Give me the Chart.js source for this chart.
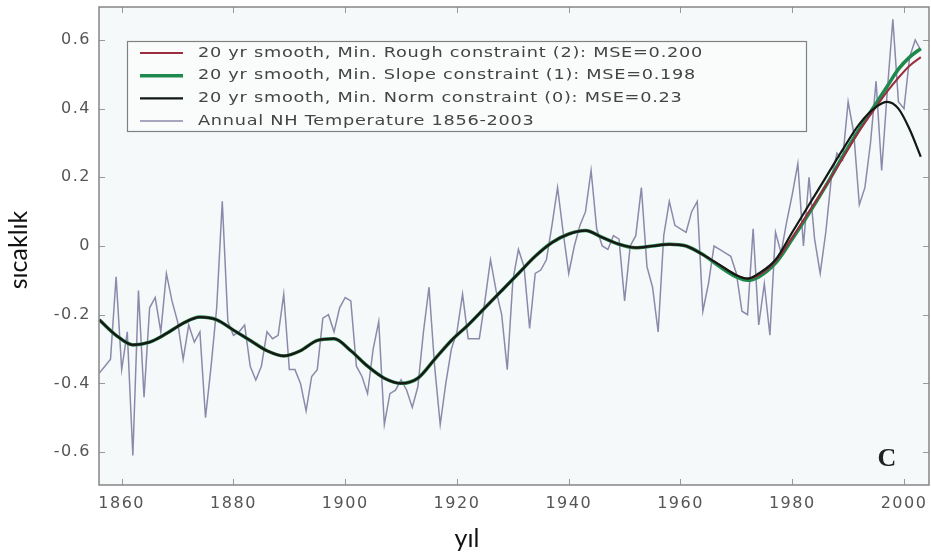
<!DOCTYPE html>
<html>
<head>
<meta charset="utf-8">
<script src="https://cdn.jsdelivr.net/npm/chart.js@4.4.0/dist/chart.umd.min.js"></script>
<style>
    html, body { margin: 0; padding: 0; background: #fff; }
    #wrap { width: 931px; height: 558px; }
</style>
</head>
<body>
<div id="wrap"><canvas id="tempChart"></canvas></div>
<script>
// Annual NH temperature 1856-2003
const firstYear = 1856;
const annualTemps = [
    -0.37, -0.35, -0.33, -0.09, -0.36, -0.25, -0.61, -0.13, -0.44, -0.18,
    -0.15, -0.25, -0.08, -0.16, -0.22, -0.33, -0.23, -0.28, -0.25, -0.50,
    -0.35, -0.18, 0.13, -0.22, -0.26, -0.25, -0.23, -0.35, -0.39, -0.35,
    -0.25, -0.27, -0.26, -0.14, -0.36, -0.36, -0.40, -0.48, -0.38, -0.36,
    -0.21, -0.20, -0.25, -0.18, -0.15, -0.16, -0.35, -0.38, -0.43, -0.30,
    -0.22, -0.52, -0.43, -0.42, -0.39, -0.42, -0.47, -0.41, -0.25, -0.12,
    -0.35, -0.52, -0.40, -0.30, -0.25, -0.14, -0.27, -0.27, -0.27, -0.16,
    -0.04, -0.13, -0.20, -0.36, -0.10, -0.01, -0.06, -0.24, -0.08, -0.07,
    -0.04, 0.06, 0.17, 0.04, -0.08, 0.00, 0.06, 0.10, 0.22, 0.05,
    0.00, -0.01, 0.03, 0.02, -0.16, 0.00, 0.03, 0.17, -0.06, -0.12,
    -0.25, 0.03, 0.13, 0.06, 0.05, 0.04, 0.10, 0.13, -0.19, -0.11,
    0.00, -0.01, -0.02, -0.03, -0.08, -0.19, -0.20, 0.05, -0.23, -0.11,
    -0.26, 0.04, -0.02, 0.07, 0.15, 0.24, 0.00, 0.20, 0.02, -0.08,
    0.04, 0.20, 0.27, 0.25, 0.42, 0.33, 0.12, 0.17, 0.30, 0.48,
    0.22, 0.45, 0.66, 0.42, 0.40, 0.55, 0.60, 0.57
];
const annualYears = annualTemps.map((_, i) => firstYear + i);

// 20 yr smooth curves
const smoothYears = [
    1856, 1859, 1862, 1865, 1868, 1871, 1874, 1877, 1880, 1883,
    1886, 1889, 1892, 1895, 1898, 1901, 1904, 1907, 1910, 1913,
    1916, 1919, 1922, 1925, 1928, 1931, 1934, 1937, 1940, 1943,
    1946, 1949, 1952, 1955, 1958, 1961, 1964, 1967, 1970, 1972,
    1974, 1977, 1980, 1983, 1986, 1989, 1992, 1995, 1997, 1999,
    2001, 2003
];
const roughSmooth = [
    -0.215, -0.26, -0.288, -0.28, -0.255, -0.225, -0.207, -0.215, -0.245, -0.275,
    -0.305, -0.32, -0.305, -0.275, -0.27, -0.305, -0.35, -0.385, -0.40, -0.385,
    -0.33, -0.275, -0.23, -0.18, -0.13, -0.08, -0.03, 0.01, 0.035, 0.045,
    0.025, 0.005, -0.005, 0.0, 0.005, 0.0, -0.025, -0.055, -0.085, -0.095,
    -0.085, -0.045, 0.025, 0.10, 0.175, 0.255, 0.335, 0.405, 0.45, 0.49,
    0.525, 0.55
];
const slopeSmooth = [
    -0.215, -0.26, -0.288, -0.28, -0.255, -0.225, -0.207, -0.215, -0.245, -0.275,
    -0.305, -0.32, -0.305, -0.275, -0.27, -0.305, -0.35, -0.385, -0.40, -0.385,
    -0.33, -0.275, -0.23, -0.18, -0.13, -0.08, -0.03, 0.01, 0.035, 0.045,
    0.025, 0.005, -0.005, 0.0, 0.005, 0.0, -0.025, -0.06, -0.09, -0.10,
    -0.09, -0.05, 0.02, 0.095, 0.175, 0.26, 0.34, 0.415, 0.465, 0.515,
    0.55, 0.575
];
const normSmooth = [
    -0.215, -0.26, -0.288, -0.28, -0.255, -0.225, -0.207, -0.215, -0.245, -0.275,
    -0.305, -0.32, -0.305, -0.275, -0.27, -0.305, -0.35, -0.385, -0.40, -0.385,
    -0.33, -0.275, -0.23, -0.18, -0.13, -0.08, -0.03, 0.01, 0.035, 0.045,
    0.025, 0.005, -0.005, 0.0, 0.005, 0.0, -0.025, -0.055, -0.085, -0.095,
    -0.08, -0.04, 0.04, 0.12, 0.20, 0.28, 0.355, 0.405, 0.42, 0.40,
    0.34, 0.26
];

// tick labels
const xTicks = [1860, 1880, 1900, 1920, 1940, 1960, 1980, 2000];
const yTicks = [-0.6, -0.4, -0.2, 0, 0.2, 0.4, 0.6];

const legendOrder = [
    { label: '20 yr smooth, Min. Rough constraint (2): MSE=0.200', color: '#9b2d3f', width: 2 },
    { label: '20 yr smooth, Min. Slope constraint (1): MSE=0.198', color: '#1d8a4c', width: 3.5 },
    { label: '20 yr smooth, Min. Norm constraint (0): MSE=0.23', color: '#111a15', width: 2.2 },
    { label: 'Annual NH Temperature 1856-2003', color: '#8c8aaa', width: 1.5 }
];

const toPoints = (xs, ys) => xs.map((x, i) => ({ x: x, y: ys[i] }));

// plot background, frame with inward ticks, legend and titles
const framePlugin = {
    id: 'frame',
    beforeDraw(chart) {
        const { ctx, chartArea: a } = chart;
        ctx.letterSpacing = '1.5px';
        ctx.save();
        ctx.fillStyle = '#f6f9fa';
        ctx.fillRect(a.left, a.top, a.width, a.height);
        ctx.restore();
    },
    afterDatasetsDraw(chart) {
        const { ctx, chartArea: a, scales } = chart;
        ctx.save();
        ctx.strokeStyle = '#9a9a9a';
        ctx.lineWidth = 1;
        ctx.beginPath();
        xTicks.forEach(v => {
            const px = Math.round(scales.x.getPixelForValue(v)) + 0.5;
            ctx.moveTo(px, a.bottom); ctx.lineTo(px, a.bottom - 6);
            ctx.moveTo(px, a.top); ctx.lineTo(px, a.top + 6);
        });
        yTicks.forEach(v => {
            const py = Math.round(scales.y.getPixelForValue(v)) + 0.5;
            ctx.moveTo(a.left, py); ctx.lineTo(a.left + 6, py);
            ctx.moveTo(a.right, py); ctx.lineTo(a.right - 6, py);
        });
        ctx.stroke();
        ctx.strokeStyle = '#858585';
        ctx.lineWidth = 1.5;
        ctx.strokeRect(a.left, a.top, a.width, a.height);
        ctx.restore();
    },
    afterDraw(chart) {
        const ctx = chart.ctx;
        ctx.save();
        // legend box
        ctx.fillStyle = '#fafcfc';
        ctx.fillRect(127.5, 41.5, 679, 90);
        ctx.strokeStyle = '#808080';
        ctx.lineWidth = 1.2;
        ctx.strokeRect(127.5, 41.5, 679, 90);
        ctx.font = '14.5px "DejaVu Sans"';
        ctx.letterSpacing = '0.6px';
        ctx.textBaseline = 'middle';
        ctx.textAlign = 'left';
        const stretch = 505 / ctx.measureText(legendOrder[0].label).width;
        legendOrder.forEach((item, i) => {
            const y = 53 + i * 22.7;
            ctx.strokeStyle = item.color;
            ctx.lineWidth = item.width;
            ctx.beginPath();
            ctx.moveTo(140, y);
            ctx.lineTo(183, y);
            ctx.stroke();
            ctx.save();
            ctx.translate(198, y);
            ctx.scale(stretch, 1);
            ctx.fillStyle = '#444';
            ctx.fillText(item.label, 0, 0);
            ctx.restore();
        });

        // panel letter
        ctx.letterSpacing = '0px';
        ctx.fillStyle = '#222';
        ctx.font = 'bold 26px "Liberation Serif"';
        ctx.textAlign = 'center';
        ctx.textBaseline = 'alphabetic';
        ctx.fillText('C', 887, 466);

        // axis titles
        ctx.fillStyle = '#111';
        ctx.font = '25px Lato';
        ctx.textBaseline = 'middle';
        ctx.fillText('yıl', 467, 539);
        ctx.translate(19, 250);
        ctx.rotate(-Math.PI / 2);
        ctx.fillText('sıcaklık', 0, 0);
        ctx.restore();
    }
};

const ctx = document.getElementById('tempChart').getContext('2d');
new Chart(ctx, {
    type: 'line',
    data: {
        datasets: [
            {
                label: legendOrder[2].label,
                data: toPoints(smoothYears, normSmooth),
                borderColor: legendOrder[2].color,
                borderWidth: legendOrder[2].width,
                cubicInterpolationMode: 'monotone',
                pointRadius: 0,
                order: 1
            },
            {
                label: legendOrder[0].label,
                data: toPoints(smoothYears, roughSmooth),
                borderColor: legendOrder[0].color,
                borderWidth: legendOrder[0].width,
                cubicInterpolationMode: 'monotone',
                pointRadius: 0,
                order: 2
            },
            {
                label: legendOrder[1].label,
                data: toPoints(smoothYears, slopeSmooth),
                borderColor: legendOrder[1].color,
                borderWidth: legendOrder[1].width,
                cubicInterpolationMode: 'monotone',
                pointRadius: 0,
                order: 3
            },
            {
                label: legendOrder[3].label,
                data: toPoints(annualYears, annualTemps),
                borderColor: legendOrder[3].color,
                borderWidth: legendOrder[3].width,
                tension: 0,
                pointRadius: 0,
                order: 4
            }
        ]
    },
    options: {
        responsive: true,
        maintainAspectRatio: false,
        animation: false,
        layout: { padding: { top: 7, right: 2, left: 0, bottom: 0 } },
        plugins: {
            legend: { display: false },
            tooltip: { enabled: false }
        },
        scales: {
            x: {
                type: 'linear',
                min: 1855.94,
                max: 2004.47,
                grid: { display: false, drawTicks: false },
                border: { display: false },
                afterBuildTicks: scale => { scale.ticks = xTicks.map(v => ({ value: v })); },
                afterFit: scale => {
                    scale.height = 73;
                    scale.paddingLeft = 0;
                    scale.paddingRight = 0;
                },
                ticks: {
                    padding: 9,
                    color: '#555',
                    font: { family: 'DejaVu Sans', size: 16 },
                    callback: v => String(v)
                }
            },
            y: {
                type: 'linear',
                min: -0.696,
                max: 0.696,
                grid: { display: false, drawTicks: false },
                border: { display: false },
                afterBuildTicks: scale => { scale.ticks = yTicks.map(v => ({ value: v })); },
                afterFit: scale => {
                    scale.width = 99;
                    scale.paddingTop = 0;
                    scale.paddingBottom = 0;
                },
                ticks: {
                    padding: 8,
                    color: '#555',
                    font: { family: 'DejaVu Sans', size: 16 },
                    callback: v => String(Math.round(v * 10) / 10)
                }
            }
        }
    },
    plugins: [framePlugin]
});
</script>
</body>
</html>
